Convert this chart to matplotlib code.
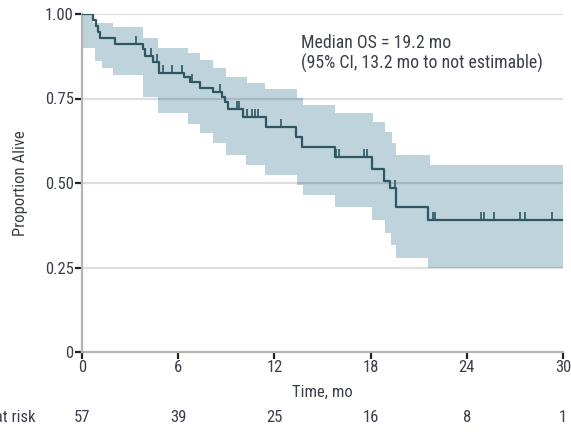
import numpy as np
import matplotlib
matplotlib.use("Agg")
import matplotlib.pyplot as plt
from matplotlib.path import Path
from matplotlib.transforms import blended_transform_factory
from matplotlib import font_manager

names = {f.name for f in font_manager.fontManager.ttflist}
fam = [n for n in ['Roboto Condensed', 'Liberation Sans Narrow', 'Open Sans Condensed',
                   'Roboto', 'DejaVu Sans'] if n in names]
plt.rcParams['font.family'] = fam + ['DejaVu Sans']

# Kaplan-Meier step curve (time of step, survival from that time on)
km_t = [0, 0.7, 0.85, 1.0, 1.15, 2.06, 3.8, 3.95, 4.45, 4.8, 6.36, 6.74, 7.36,
        8.19, 8.71, 8.92, 9.13, 10.06, 11.45, 13.37, 13.72, 15.8, 18.07, 18.85,
        19.2, 19.6, 21.6, 30]
km_s = [1.0, 0.982, 0.965, 0.947, 0.93, 0.912, 0.895, 0.877, 0.859, 0.824, 0.815,
        0.80, 0.78, 0.77, 0.755, 0.74, 0.718, 0.696, 0.665, 0.637, 0.607, 0.578,
        0.541, 0.506, 0.485, 0.43, 0.39, 0.39]

# censoring times
cens_t = [3.35, 4.3, 4.7, 5.05, 5.6, 6.25, 6.84, 8.6, 9.65, 9.81, 10.3, 10.6,
          10.8, 11.0, 12.41, 15.85, 16.05, 17.6, 17.75, 19.5, 21.9, 22.0, 24.9,
          25.1, 25.7, 27.3, 27.6, 29.3]

# 95% CI band (steps)
lo_t = [0, 0.8, 1.23, 1.94, 3.8, 4.74, 6.6, 7.36, 8.2, 9.0, 10.2, 11.42, 13.39,
        13.77, 15.8, 18.07, 18.9, 19.3, 19.6, 21.6, 30]
lo_s = [0.898, 0.86, 0.84, 0.82, 0.755, 0.706, 0.676, 0.647, 0.617, 0.583, 0.553,
        0.525, 0.494, 0.464, 0.43, 0.39, 0.353, 0.317, 0.277, 0.248, 0.248]
up_t = [0, 0.7, 1.94, 3.8, 4.74, 6.6, 7.36, 8.2, 9.0, 10.3, 11.42, 13.39, 13.77,
        15.78, 18.13, 18.9, 19.32, 19.59, 21.71, 30]
up_s = [1.0, 0.973, 0.962, 0.929, 0.9, 0.884, 0.864, 0.84, 0.815, 0.797, 0.778,
        0.752, 0.731, 0.706, 0.68, 0.65, 0.617, 0.583, 0.553, 0.553]

xticks = [0, 6, 12, 18, 24, 30]
yticks = [0, 0.25, 0.50, 0.75, 1.00]
ytick_labels = ['0', '0.25', '0.50', '0.75', '1.00']
at_risk = [57, 39, 25, 16, 8, 1]

band_color = '#bed3dc'
line_color = '#2f5663'
text_color = '#3a3f4a'
fs = 12

fig = plt.figure(figsize=(5.71, 4.45), dpi=100)
ax = fig.add_axes([82 / 571, 93 / 445, 481 / 571, 338 / 445])

grid_t = np.union1d(lo_t, up_t)
def step_val(tt, ss, x):
    idx = np.searchsorted(tt, x, side='right') - 1
    return np.asarray(ss)[np.clip(idx, 0, len(ss) - 1)]
lo_g = step_val(lo_t, lo_s, grid_t)
up_g = step_val(up_t, up_s, grid_t)
ax.fill_between(grid_t, lo_g, up_g, step='post', color=band_color, lw=0, zorder=1)

for y in [0.25, 0.5, 0.75, 1.0]:
    ax.axhline(y, color='black', alpha=0.13, lw=1.6, zorder=2)

ax.step(km_t, km_s, where='post', color=line_color, lw=1.6, zorder=3)
cs = step_val(km_t, km_s, np.array(cens_t))
tick_marker = Path([(0, 0), (0, 1)], [Path.MOVETO, Path.LINETO])
ax.plot(cens_t, cs, ls='none', marker=tick_marker, markersize=11,
        markeredgecolor=line_color, markeredgewidth=1.2, zorder=3)

ax.set_xlim(0, 30)
ax.set_ylim(0, 1.0)
ax.set_xticks(xticks)
ax.set_xticklabels([str(v) for v in xticks])
ax.set_yticks(yticks)
ax.set_yticklabels(ytick_labels)

for s in ['top', 'right']:
    ax.spines[s].set_visible(False)
for s in ['left', 'bottom']:
    ax.spines[s].set_color('#b4b4b4')
    ax.spines[s].set_linewidth(1.6)
ax.tick_params(axis='both', colors='#222222', width=1.6, length=5,
               labelsize=fs, labelcolor=text_color, pad=1)
ax.set_ylabel('Proportion Alive', fontsize=fs, color=text_color, labelpad=12)
ax.set_xlabel('Time, mo', fontsize=fs, color=text_color, labelpad=7)

ax.text(0.4553, 0.94, 'Median OS = 19.2 mo\n(95% CI, 13.2 mo to not estimable)',
        transform=ax.transAxes, fontsize=12.8, color=text_color, va='top', ha='left',
        linespacing=1.12)

trans = blended_transform_factory(ax.transData, fig.transFigure)
for x, n in zip(xticks, at_risk):
    ax.text(x, 1 - 418 / 445, str(n), transform=trans, ha='center', va='center',
            fontsize=fs, color=text_color, clip_on=False)
fig.text(35 / 571, 1 - 418 / 445, 'No. at risk', ha='right', va='center',
         fontsize=fs, color=text_color)

fig.savefig('out.png', dpi=100)
